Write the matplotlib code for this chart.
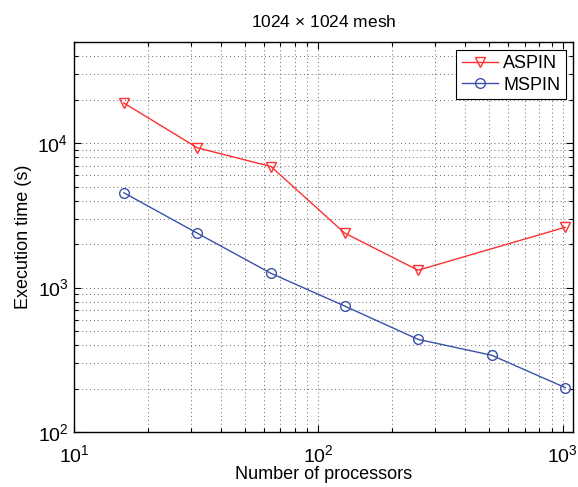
import matplotlib
matplotlib.use("Agg")
import matplotlib.pyplot as plt
from matplotlib.ticker import LogLocator, NullFormatter

plt.rcParams["font.family"] = ["Liberation Sans", "DejaVu Sans"]
plt.rcParams["mathtext.fontset"] = "custom"
plt.rcParams["mathtext.rm"] = "Liberation Sans"
plt.rcParams["mathtext.it"] = "Liberation Sans:italic"

aspin_procs = [16, 32, 64, 128, 256, 1024]
aspin_time = [19000, 9300, 6900, 2390, 1320, 2620]

mspin_procs = [16, 32, 64, 128, 256, 512, 1024]
mspin_time = [4540, 2380, 1256, 746, 438, 340, 203]

fig = plt.figure(figsize=(5.78, 4.87), dpi=100)
ax = fig.add_axes([0.128, 0.113, 0.863, 0.800])

ax.plot(aspin_procs, aspin_time, color="#ff3030", lw=1.0, marker="v",
        ms=7, mfc="none", mec="#ff3030", mew=1.0, label="ASPIN")
ax.plot(mspin_procs, mspin_time, color="#3a52a8", lw=1.0, marker="o",
        ms=7, mfc="none", mec="#3a52a8", mew=1.0, label="MSPIN")

ax.set_xscale("log")
ax.set_yscale("log")
ax.set_xlim(10, 1100)
ax.set_ylim(100, 5e4)

ax.xaxis.set_major_locator(LogLocator(base=10, numticks=10))
ax.yaxis.set_major_locator(LogLocator(base=10, numticks=10))
ax.xaxis.set_minor_locator(LogLocator(base=10, subs=range(2, 10), numticks=20))
ax.yaxis.set_minor_locator(LogLocator(base=10, subs=range(2, 10), numticks=20))
ax.xaxis.set_minor_formatter(NullFormatter())
ax.yaxis.set_minor_formatter(NullFormatter())

ax.grid(True, which="both", linestyle=(0, (1, 3)), color="#666666", lw=0.7)
ax.tick_params(which="both", direction="in", top=True, right=True,
               labelsize=14, width=0.8)
ax.tick_params(which="major", length=5)
ax.tick_params(which="minor", length=3)
ax.tick_params(axis="x", which="major", pad=9)
ax.tick_params(axis="y", which="major", pad=4)
for s in ax.spines.values():
    s.set_linewidth(1.0)

ax.set_xlabel("Number of processors", fontsize=13, labelpad=0)
ax.set_ylabel("Execution time (s)", fontsize=13, labelpad=4)
ax.set_title(r"1024 $\times$ 1024 mesh", fontsize=12.5, pad=11)

leg = ax.legend(loc="upper right", fontsize=13, fancybox=False,
                edgecolor="black", framealpha=1, borderaxespad=0.4,
                handlelength=2.0, handletextpad=0.3, borderpad=0.3,
                labelspacing=0.25)
leg.get_frame().set_linewidth(0.8)

fig.savefig("out.png", dpi=100)
